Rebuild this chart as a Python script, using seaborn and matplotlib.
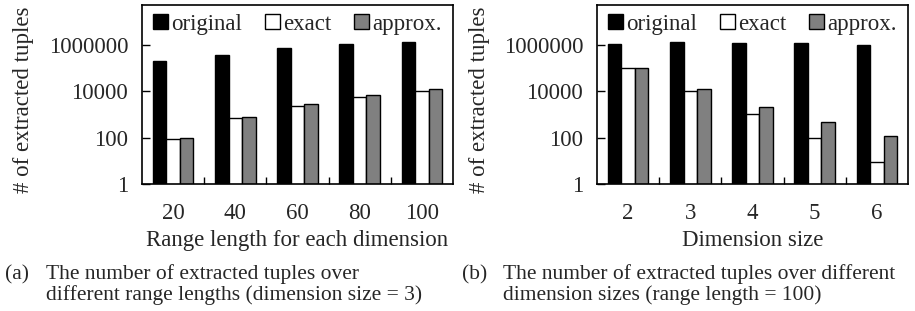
import matplotlib
matplotlib.use("Agg")
import matplotlib.pyplot as plt
import matplotlib.ticker as mticker
import seaborn as sns
import pandas as pd

# ---- data ----
series = ["original", "exact", "approx."]
range_lengths = ["20", "40", "60", "80", "100"]
a_original = [190000, 350000, 740000, 1100000, 1300000]
a_exact = [85, 700, 2200, 5500, 10000]
a_approx = [95, 800, 2800, 6500, 12500]

dim_sizes = ["2", "3", "4", "5", "6"]
b_original = [1050000, 1300000, 1150000, 1200000, 950000]
b_exact = [100000, 9800, 1000, 100, 9]
b_approx = [100000, 12500, 2000, 450, 120]

ytick_vals = [1, 100, 10000, 1000000]
ytick_labels = ["1", "100", "10000", "1000000"]

xlabel_a = "Range length for each dimension"
xlabel_b = "Dimension size"
ylabel = "# of extracted tuples"
cap_a = ["(a)", "The number of extracted tuples over",
         "different range lengths (dimension size = 3)"]
cap_b = ["(b)", "The number of extracted tuples over different",
         "dimension sizes (range length = 100)"]

colors = {"original": "#000000", "exact": "#ffffff", "approx.": "#808080"}

sns.set_style("white")
plt.rcParams["font.family"] = ["Liberation Serif", "DejaVu Serif"]

W, H = 915, 311
fig = plt.figure(figsize=(W / 100, H / 100), dpi=100)
FS = 16.5


def make_df(cats, o, e, a):
    rows = []
    for c, v1, v2, v3 in zip(cats, o, e, a):
        rows.append({"cat": c, "series": "original", "val": v1})
        rows.append({"cat": c, "series": "exact", "val": v2})
        rows.append({"cat": c, "series": "approx.", "val": v3})
    return pd.DataFrame(rows)


def panel(rect, cats, o, e, a, xlabel, ylab_x):
    x0, y0, x1, y1 = rect
    ax = fig.add_axes([x0 / W, 1 - y1 / H, (x1 - x0) / W, (y1 - y0) / H])
    df = make_df(cats, o, e, a)
    sns.barplot(data=df, x="cat", y="val", hue="series", order=cats,
                hue_order=series, palette=colors, width=0.65, gap=0,
                edgecolor="black", linewidth=1.0, ax=ax, legend=False)
    ax.set_yscale("log")
    ax.set_ylim(1, 5e7)
    ax.set_xlim(-0.5, len(cats) - 0.5)
    ax.yaxis.set_major_locator(mticker.FixedLocator(ytick_vals))
    ax.yaxis.set_major_formatter(mticker.FixedFormatter(ytick_labels))
    ax.yaxis.set_minor_locator(mticker.NullLocator())
    ax.tick_params(axis="y", which="major", direction="in", length=6,
                   width=1, labelsize=FS, pad=10, left=True, color="black")
    ax.xaxis.set_minor_locator(mticker.FixedLocator(
        [i + 0.5 for i in range(len(cats) - 1)]))
    ax.tick_params(axis="x", which="major", length=0, labelsize=FS, pad=14)
    ax.tick_params(axis="x", which="minor", direction="in", length=5,
                   width=1, bottom=True, color="black")
    for s in ax.spines.values():
        s.set_visible(True)
        s.set_color("black")
        s.set_linewidth(1.2)
    ax.set_xlabel(xlabel, fontsize=FS, labelpad=4)
    ax.set_ylabel("")
    fig.text(ylab_x / W, 1 - 100 / H, ylabel, rotation=90, fontsize=FS,
             ha="center", va="center")
    handles = [plt.Rectangle((0, 0), 1, 1, facecolor=colors[s],
                             edgecolor="black", linewidth=1.0) for s in series]
    ax.legend(handles, series, loc="upper center", ncol=3, frameon=False,
              fontsize=FS, handlelength=0.65, handleheight=0.65,
              handletextpad=0.15, columnspacing=1.0,
              bbox_to_anchor=(0.5, 1.04), borderaxespad=0.3)
    return ax


panel((142, 5, 453, 184), range_lengths, a_original, a_exact, a_approx,
      xlabel_a, 24)
panel((597, 5, 908, 184), dim_sizes, b_original, b_exact, b_approx,
      xlabel_b, 479)

cap_fs = 15.5
fig.text(5 / W, 1 - 279 / H, cap_a[0], fontsize=cap_fs, va="baseline")
fig.text(46 / W, 1 - 279 / H, cap_a[1], fontsize=cap_fs, va="baseline")
fig.text(46 / W, 1 - 300 / H, cap_a[2], fontsize=cap_fs, va="baseline")
fig.text(462 / W, 1 - 279 / H, cap_b[0], fontsize=cap_fs, va="baseline")
fig.text(503 / W, 1 - 279 / H, cap_b[1], fontsize=cap_fs, va="baseline")
fig.text(503 / W, 1 - 300 / H, cap_b[2], fontsize=cap_fs, va="baseline")

fig.savefig("out.png", dpi=100)
